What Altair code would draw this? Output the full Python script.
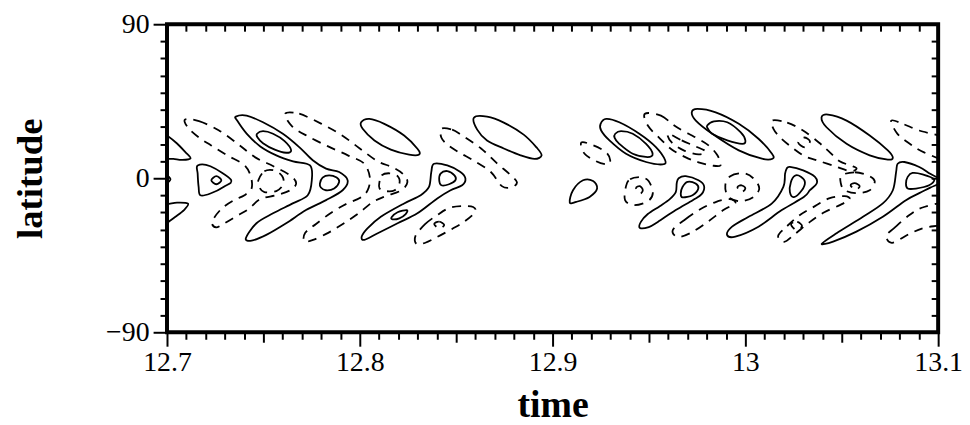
import altair as alt
import pandas as pd

# ---- positive (solid) contours: closed loops of (time, latitude) points ----
S01 = [(12.6958, 27.9), (12.7000, 25.0), (12.7052, 20.3), (12.7094, 15.4), (12.7122, 11.6),
       (12.7078, 10.7), (12.7034, 11.3), (12.7000, 11.3), (12.6958, 11.3)]
S02 = [(12.6958, -14.5), (12.7000, -15.1), (12.7052, -14.2), (12.7109, -14.8), (12.7088, -18.6),
       (12.7042, -22.6), (12.7000, -26.1), (12.6958, -29.6)]
S03 = [(12.6982, -0.6), (12.7000, 1.5), (12.7018, -0.6), (12.7000, -2.6)]
S04 = [(12.7159, 7.5), (12.7225, 7.0), (12.7332, -0.9), (12.7295, -4.9), (12.7225, -8.9),
       (12.7173, -9.9), (12.7164, -5.1), (12.7159, 2.7)]
S05 = [(12.7230, -1.2), (12.7256, 1.2), (12.7282, -1.2), (12.7256, -3.5)]
S06 = [(12.7357, 36.0), (12.7413, 36.6), (12.7498, 32.7), (12.7601, 26.0), (12.7686, 18.2),
       (12.7756, 10.5), (12.7825, 5.6), (12.7893, 3.7), (12.7937, -1.2), (12.7911, -7.0),
       (12.7825, -12.8), (12.7721, -18.6), (12.7618, -26.3), (12.7515, -33.1), (12.7439, -36.4),
       (12.7409, -35.0), (12.7464, -26.3), (12.7550, -20.5), (12.7652, -14.7), (12.7730, -9.9),
       (12.7751, -1.2), (12.7742, 7.5), (12.7654, 9.9), (12.7567, 13.4), (12.7484, 18.6),
       (12.7413, 26.1), (12.7364, 33.7)]
S07 = [(12.7467, 26.0), (12.7498, 27.5), (12.7550, 26.0), (12.7610, 21.7), (12.7644, 16.3),
       (12.7618, 14.9), (12.7559, 16.7), (12.7498, 20.5), (12.7469, 24.0)]
S08 = [(12.7793, -3.1), (12.7807, 0.4), (12.7841, 1.7), (12.7880, 0.4), (12.7893, -2.1),
       (12.7867, -6.0), (12.7824, -7.0), (12.7798, -5.4)]
S09 = [(12.8007, 32.7), (12.8050, 34.7), (12.8127, 31.8), (12.8230, 25.0), (12.8299, 17.2),
       (12.8308, 13.9), (12.8256, 13.8), (12.8161, 16.7), (12.8076, 22.1), (12.8015, 28.9)]
S10 = [(12.8592, 35.4), (12.8660, 36.0), (12.8747, 32.5), (12.8850, 25.5), (12.8917, 18.0),
       (12.8943, 13.4), (12.8907, 11.3), (12.8834, 13.4), (12.8747, 17.4), (12.8660, 22.1),
       (12.8609, 28.4)]
S11 = [(12.8385, 8.5), (12.8454, 7.5), (12.8522, 3.7), (12.8548, -0.2), (12.8531, -4.1),
       (12.8471, -7.0), (12.8402, -11.8), (12.8299, -20.5), (12.8196, -26.3), (12.8093, -32.1),
       (12.8024, -36.0), (12.8010, -34.1), (12.8041, -29.2), (12.8109, -22.5), (12.8230, -14.7),
       (12.8316, -9.9), (12.8359, -5.1), (12.8371, 3.7)]
S12 = [(12.8419, 2.7), (12.8454, 4.2), (12.8491, 1.7), (12.8496, -1.2), (12.8463, -3.5),
       (12.8423, -4.1), (12.8412, -1.2)]
S13 = [(12.8165, -22.8), (12.8196, -19.9), (12.8244, -18.6), (12.8238, -20.9), (12.8205, -23.4),
       (12.8170, -24.0)]
S14 = [(12.9089, -14.2), (12.9106, -7.0), (12.9158, -1.2), (12.9210, -1.6), (12.9231, -6.0),
       (12.9192, -10.9), (12.9123, -13.8)]
S15 = [(12.9249, 31.8), (12.9278, 34.7), (12.9346, 32.7), (12.9450, 26.0), (12.9536, 18.2),
       (12.9584, 10.5), (12.9571, 8.1), (12.9485, 9.5), (12.9381, 14.3), (12.9295, 22.1),
       (12.9252, 27.9)]
S16 = [(12.9325, 26.0), (12.9355, 27.5), (12.9416, 26.0), (12.9485, 20.1), (12.9519, 14.3),
       (12.9493, 12.4), (12.9416, 14.3), (12.9346, 20.1), (12.9322, 23.6)]
S17 = [(12.9722, 38.5), (12.9751, 40.5), (12.9846, 38.5), (12.9966, 31.8), (13.0068, 23.1),
       (13.0138, 14.3), (13.0141, 11.4), (13.0086, 11.4), (12.9966, 16.3), (12.9828, 26.0),
       (12.9743, 33.7)]
S18 = [(12.9802, 30.8), (12.9837, 33.3), (12.9906, 32.7), (12.9975, 26.9), (13.0000, 22.1),
       (12.9984, 20.1), (12.9906, 22.1), (12.9828, 26.0), (12.9806, 28.9)]
S19 = [(12.9654, 0.0), (12.9691, 1.2), (12.9757, -1.2), (12.9786, -4.6), (12.9773, -9.3),
       (12.9727, -12.8), (12.9639, -18.6), (12.9546, -25.5), (12.9499, -28.5), (12.9453, -29.0),
       (12.9458, -25.5), (12.9494, -20.9), (12.9556, -16.3), (12.9608, -12.2), (12.9639, -8.1),
       (12.9644, -2.9)]
S20 = [(12.9674, -5.1), (12.9700, -2.1), (12.9742, -3.1), (12.9756, -6.0), (12.9726, -9.9),
       (12.9674, -11.2), (12.9665, -8.9)]
S21 = [(13.0214, 5.6), (13.0231, 6.6), (13.0300, 4.6), (13.0361, 0.8), (13.0370, -3.1),
       (13.0335, -7.0), (13.0303, -11.0), (13.0189, -18.6), (13.0068, -28.3), (12.9948, -34.1),
       (12.9905, -33.1), (12.9931, -28.3), (13.0017, -22.5), (13.0138, -14.7), (13.0197, -5.1),
       (13.0206, 2.7)]
S22 = [(13.0236, -2.3), (13.0257, 1.5), (13.0288, 0.9), (13.0309, -2.3), (13.0293, -7.0),
       (13.0252, -11.0), (13.0231, -8.1)]
S23 = [(13.0395, 35.6), (13.0429, 37.2), (13.0525, 33.7), (13.0645, 25.0), (13.0739, 16.3),
       (13.0765, 12.0), (13.0739, 10.9), (13.0645, 13.4), (13.0525, 20.1), (13.0421, 29.8)]
S24 = [(13.0790, 8.5), (13.0825, 9.5), (13.0902, 6.6), (13.0959, 2.6), (13.1020, -1.7),
       (13.0959, -5.5), (13.0902, -8.7), (13.0833, -12.8), (13.0713, -22.5), (13.0576, -31.2),
       (13.0455, -37.0), (13.0396, -38.3), (13.0473, -32.1), (13.0610, -22.5), (13.0713, -14.7),
       (13.0765, -7.0), (13.0782, 3.7)]
S25 = [(13.0833, -3.1), (13.0842, 0.8), (13.0867, 3.1), (13.0919, 2.3), (13.0979, -0.6),
       (13.0953, -4.1), (13.0885, -6.0), (13.0842, -6.0)]

# ---- negative (dashed) contours ----
N01 = [(12.7094, 34.3), (12.7166, 33.4), (12.7270, 27.9), (12.7371, 19.7), (12.7458, 12.2),
       (12.7552, 7.0), (12.7639, 1.7), (12.7670, -2.9), (12.7639, -7.0), (12.7567, -9.9),
       (12.7484, -12.2), (12.7423, -18.0), (12.7361, -22.1), (12.7301, -26.1), (12.7255, -28.7),
       (12.7234, -25.5), (12.7281, -18.0), (12.7348, -12.8), (12.7402, -9.9), (12.7439, -5.8),
       (12.7433, 1.7), (12.7397, 8.1), (12.7312, 13.4), (12.7229, 19.2), (12.7166, 23.8),
       (12.7109, 29.6)]
N01i = [(12.7474, -1.2), (12.7505, 4.1), (12.7557, 4.6), (12.7598, 1.2), (12.7603, -3.5),
        (12.7567, -7.5), (12.7505, -8.1), (12.7479, -5.2)]
N02 = [(12.7613, 37.7), (12.7686, 37.7), (12.7799, 31.9), (12.7902, 25.5), (12.8000, 17.4),
       (12.8093, 9.9), (12.8170, 6.4), (12.8226, 2.3), (12.8247, -2.3), (12.8216, -7.0),
       (12.8134, -10.5), (12.8067, -13.9), (12.7989, -20.9), (12.7912, -26.7), (12.7836, -31.9),
       (12.7758, -36.0), (12.7712, -36.9), (12.7717, -31.9), (12.7773, -26.7), (12.7850, -20.3),
       (12.7928, -15.1), (12.8000, -11.6), (12.8041, -7.0), (12.8052, 0.6), (12.8021, 8.7),
       (12.7938, 13.4), (12.7836, 18.6), (12.7732, 24.4), (12.7650, 30.2)]
N02i = [(12.8102, -2.3), (12.8113, 1.7), (12.8155, 2.9), (12.8196, 1.2), (12.8206, -2.9),
        (12.8181, -7.0), (12.8134, -7.5), (12.8102, -5.8)]
N03 = [(12.8423, 29.0), (12.8479, 28.4), (12.8531, 25.0), (12.8629, 17.4), (12.8712, 8.7),
       (12.8778, 2.3), (12.8815, -2.3), (12.8789, -5.2), (12.8737, -4.6), (12.8681, 3.5),
       (12.8597, 9.9), (12.8515, 15.1), (12.8454, 19.7), (12.8423, 23.8)]
N04 = [(12.8289, -33.7), (12.8340, -26.7), (12.8402, -21.5), (12.8464, -17.4), (12.8531, -16.3),
       (12.8588, -16.8), (12.8598, -19.7), (12.8546, -25.0), (12.8479, -29.6), (12.8402, -34.3),
       (12.8340, -37.7), (12.8294, -38.3)]
N04i = [(12.8386, -26.7), (12.8412, -25.3), (12.8438, -27.3), (12.8412, -29.3)]
N05 = [(12.9149, 20.9), (12.9212, 19.2), (12.9278, 15.1), (12.9299, 10.5), (12.9283, 8.1),
       (12.9226, 9.9), (12.9165, 14.5)]
N06 = [(12.9381, -4.6), (12.9402, -0.6), (12.9458, 0.6), (12.9499, -1.7), (12.9520, -8.7),
       (12.9494, -13.4), (12.9423, -15.7), (12.9376, -12.8)]
N06i = [(12.9433, -5.8), (12.9453, -4.6), (12.9468, -7.0), (12.9453, -9.0)]
N07 = [(12.9479, 37.7), (12.9562, 36.6), (12.9639, 30.2), (12.9742, 23.8), (12.9809, 19.2),
       (12.9855, 13.4), (12.9871, 7.5), (12.9824, 7.5), (12.9757, 9.3), (12.9691, 12.2),
       (12.9618, 16.8), (12.9557, 23.2), (12.9494, 30.8)]
N07i = [(12.9598, 26.1), (12.9670, 22.1), (12.9742, 18.6), (12.9794, 15.7), (12.9757, 13.9),
        (12.9680, 16.3), (12.9618, 20.9)]
N08 = [(12.9896, -4.1), (12.9922, 1.2), (12.9990, 2.9), (13.0041, 0.0), (13.0072, -5.8),
       (13.0041, -11.0), (12.9974, -13.4), (12.9912, -11.0)]
N08i = [(12.9959, -5.2), (12.9980, -4.1), (13.0000, -5.8), (12.9980, -8.1)]
N09 = [(12.9624, -30.2), (12.9691, -23.8), (12.9768, -18.0), (12.9846, -13.9), (12.9917, -12.2),
       (12.9948, -14.5), (12.9886, -18.6), (12.9804, -25.5), (12.9717, -31.9), (12.9649, -34.3)]
N10 = [(13.0140, 33.7), (13.0217, 32.5), (13.0299, 27.9), (13.0381, 20.9), (13.0433, 15.7),
       (13.0489, 9.9), (13.0546, 7.5), (13.0577, 5.8), (13.0546, 4.1), (13.0464, 7.0),
       (13.0371, 10.5), (13.0309, 12.8), (13.0242, 18.0), (13.0181, 23.8), (13.0145, 29.0)]
N10i = [(13.0274, 20.9), (13.0304, 23.8), (13.0335, 21.5), (13.0309, 18.0)]
N11 = [(13.0500, 1.7), (13.0568, 3.5), (13.0634, 1.7), (13.0671, -1.7), (13.0645, -7.0),
       (13.0577, -8.7), (13.0516, -7.0), (13.0495, -2.9)]
N11i = [(13.0546, -4.1), (13.0567, -2.9), (13.0593, -4.6), (13.0572, -6.7)]
N12 = [(13.0170, -33.7), (13.0217, -27.9), (13.0283, -21.5), (13.0361, -16.3), (13.0438, -11.6),
       (13.0515, -10.5), (13.0541, -12.2), (13.0490, -15.7), (13.0412, -19.7), (13.0335, -25.5),
       (13.0258, -32.5), (13.0201, -37.2)]
N12i = [(13.0237, -26.7), (13.0269, -25.5), (13.0294, -27.9), (13.0263, -30.2)]
N13 = [(13.0757, 33.7), (13.0825, 31.4), (13.0902, 27.9), (13.1060, 22.1), (13.1060, 10.5),
       (13.0927, 15.1), (13.0851, 20.3), (13.0788, 26.1)]
N14 = [(13.0731, -33.7), (13.0773, -29.0), (13.0851, -21.5), (13.0927, -16.8), (13.1060, -14.5),
       (13.1060, -25.5), (13.0927, -29.0), (13.0851, -32.5), (13.0762, -37.7)]

SOLID = [S01, S02, S03, S04, S05, S06, S07, S08, S09, S10, S11, S12, S13, S14, S15, S16,
         S17, S18, S19, S20, S21, S22, S23, S24, S25]
DASHED = [N01, N01i, N02, N02i, N03, N04, N04i, N05, N06, N06i, N07, N07i, N08, N08i, N09,
          N10, N10i, N11, N11i, N12, N12i, N13, N14]

# axis tick positions
X_TICKS = [round(12.7 + 0.01 * k, 2) for k in range(41)]
Y_TICKS = list(range(-90, 91, 10))


def to_frame(group, kind):
    rows = []
    for k, pts in enumerate(group):
        for i, (t, lat) in enumerate(pts):
            rows.append({"id": f"{kind}{k}", "i": i, "time": t, "lat": lat})
    return pd.DataFrame(rows)


pos_df = to_frame(SOLID, "p")
neg_df = to_frame(DASHED, "n")

xscale = alt.Scale(domain=[12.7, 13.1], nice=False, zero=False)
yscale = alt.Scale(domain=[-90, 90], nice=False, zero=False)

x_bottom = alt.Axis(
    orient="bottom", values=X_TICKS, title="time",
    labelExpr="round(datum.value*100) % 10 === 0 ? format(datum.value, '.1~f') : ''",
    tickSize={"condition": [{"test": "round(datum.value*100) % 10 === 0", "value": 14},
                            {"test": "round(datum.value*100) % 5 === 0", "value": 10}],
              "value": 7},
    labelPadding=2, labelFlush=False, labelOverlap=False,
    titleX=388, titleY=85, titleAlign="center", titleBaseline="alphabetic",
)
y_left = alt.Axis(
    orient="left", values=Y_TICKS, title="latitude",
    labelExpr="datum.value % 90 === 0 ? datum.label : ''",
    tickSize={"condition": {"test": "datum.value % 90 === 0", "value": 14}, "value": 7},
    labelPadding=4, labelFlush=False, labelOverlap=False,
    titleAngle=270, titleX=-137, titleY=155, titleAlign="center", titleBaseline="middle",
    titleFontSize=37,
)
x_top = alt.Axis(orient="top", values=X_TICKS, labels=False, title="",
                 tickSize={"expr": "-7"})
y_right = alt.Axis(orient="right", values=Y_TICKS, labels=False, title="",
                   tickSize={"expr": "-7"})

solid = alt.Chart(pos_df).mark_line(
    color="black", strokeWidth=1.8, interpolate="cardinal-closed", clip=True
).encode(
    x=alt.X("time:Q", scale=xscale, axis=x_bottom),
    y=alt.Y("lat:Q", scale=yscale, axis=y_left),
    detail="id:N",
    order=alt.Order("i:Q"),
)

dashed = alt.Chart(neg_df).mark_line(
    color="black", strokeWidth=1.8, strokeDash=[9, 7], interpolate="cardinal-closed", clip=True
).encode(
    x=alt.X("time:Q", scale=xscale, axis=x_top),
    y=alt.Y("lat:Q", scale=yscale, axis=y_right),
    detail="id:N",
    order=alt.Order("i:Q"),
)

chart = alt.layer(solid, dashed).resolve_axis(
    x="independent", y="independent"
).properties(
    width=776, height=310,
    autosize=alt.AutoSizeParams(type="none"),
    padding={"left": 160, "top": 15, "right": 24, "bottom": 96},
).configure_view(
    stroke="black", strokeWidth=4
).configure_axis(
    domain=False, grid=False, tickColor="black", tickWidth=2,
    labelFont="Liberation Serif", labelFontSize=28, labelColor="black",
    titleFont="Liberation Serif", titleFontSize=38, titleFontWeight="bold", titleColor="black",
)

chart.save("out.html", embed_options={"renderer": "svg", "actions": False})
